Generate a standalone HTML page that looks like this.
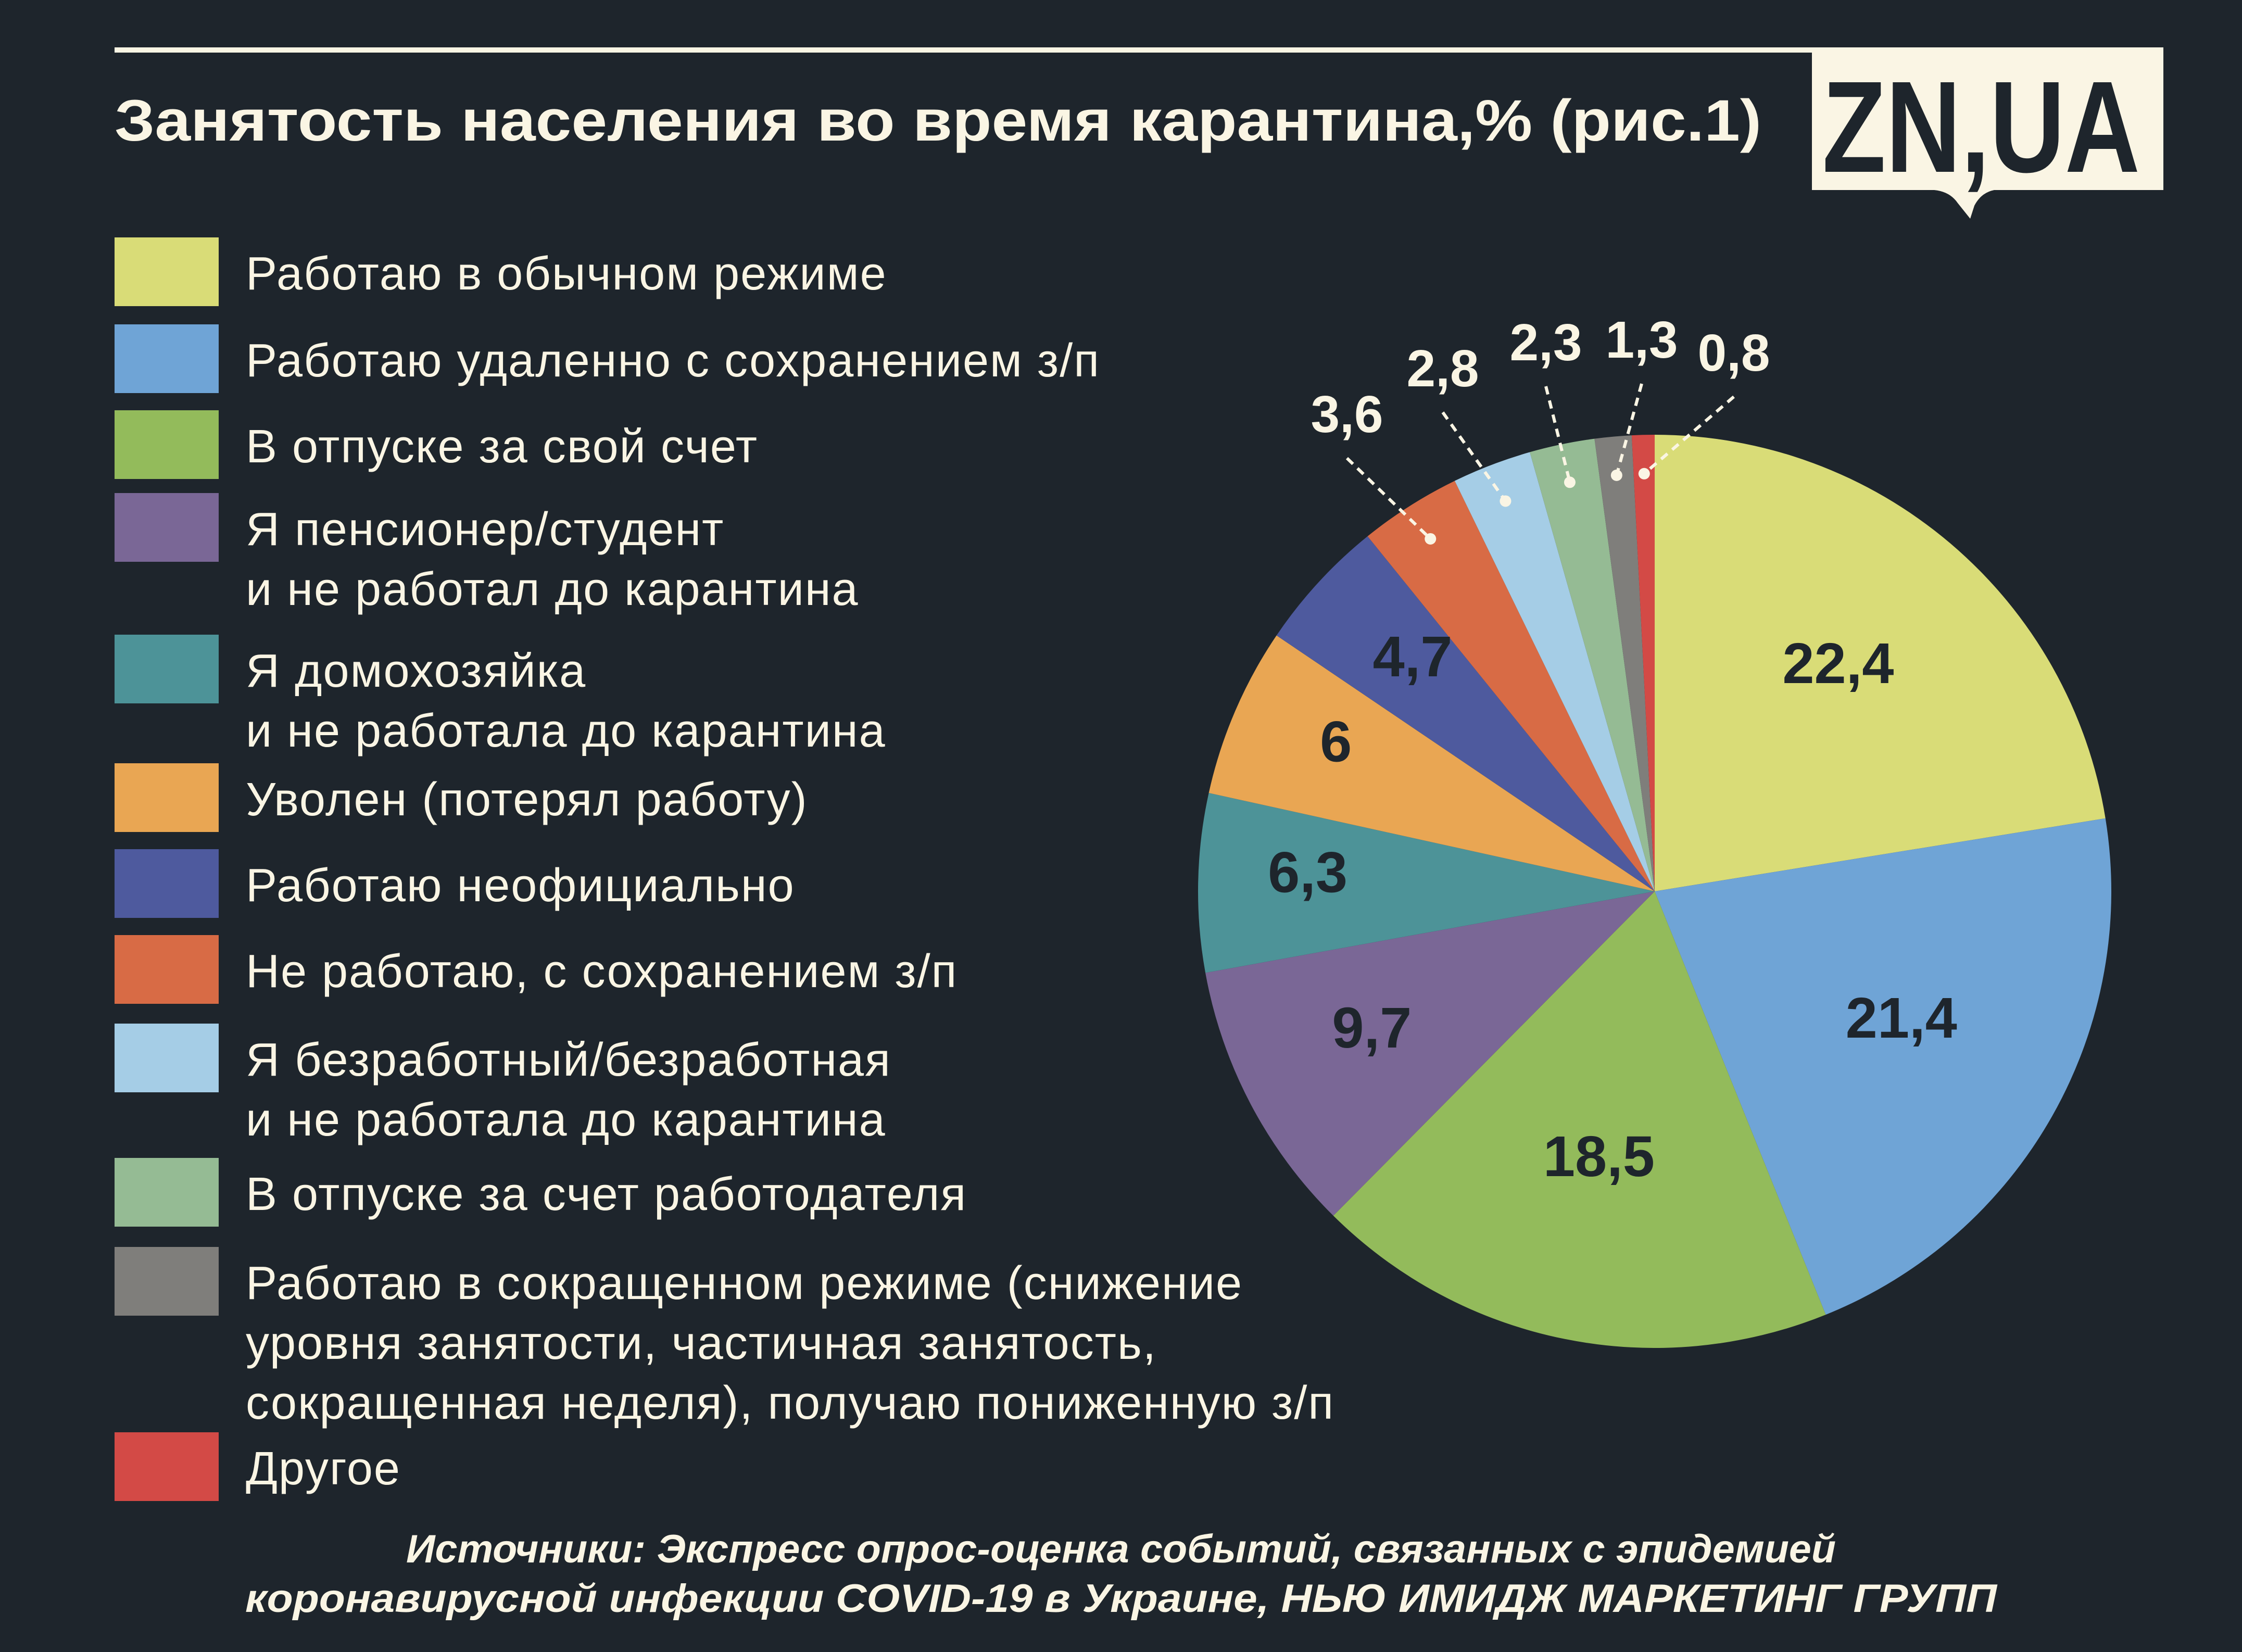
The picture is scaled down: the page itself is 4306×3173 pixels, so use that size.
<!DOCTYPE html>
<html><head><meta charset="utf-8"><style>
html,body{margin:0;padding:0;background:#1e252c;}
svg{display:block;}
text{font-family:"Liberation Sans","DejaVu Sans",sans-serif;}
</style></head><body>
<svg id="chart" width="4306" height="3173" viewBox="0 0 4306 3173" xmlns="http://www.w3.org/2000/svg">
<rect width="4306" height="3173" fill="#1e252c"/>
<rect x="220" y="91" width="3250" height="10" fill="#faf5e4"/>
<text x="220" y="270" font-size="112" font-weight="bold" fill="#faf5e4" textLength="3163" lengthAdjust="spacingAndGlyphs">Занятость населения во время карантина,% (рис.1)</text>
<g>
<path d="M3460 91 H4155 V365 H3830 Q3805 370 3792 395 L3784 420 L3760 390 Q3745 368 3715 365 H3460 Z" fill="#faf5e4"/>
<rect x="3452" y="101" width="28" height="264" fill="#1e252c"/>
<text x="3500" y="330" font-size="250" font-weight="bold" fill="#1e252c" textLength="610" lengthAdjust="spacingAndGlyphs">ZN,UA</text>
</g>
<g id="legend"></g>
<g id="pie"></g>
<g id="labels"></g>
<text x="2153" y="3001" font-size="76" font-weight="bold" font-style="italic" fill="#faf5e4" text-anchor="middle" textLength="2746" lengthAdjust="spacingAndGlyphs">Источники: Экспресс опрос-оценка событий, связанных с эпидемией</text>
<text x="2153" y="3096" font-size="76" font-weight="bold" font-style="italic" fill="#faf5e4" text-anchor="middle" textLength="3364" lengthAdjust="spacingAndGlyphs">коронавирусной инфекции COVID-19 в Украине, НЬЮ ИМИДЖ МАРКЕТИНГ ГРУПП</text>
</svg>
<script>
const categories = ["Работаю в обычном режиме","Работаю удаленно с сохранением з/п","В отпуске за свой счет","Я пенсионер/студент|и не работал до карантина","Я домохозяйка|и не работала до карантина","Уволен (потерял работу)","Работаю неофициально","Не работаю, с сохранением з/п","Я безработный/безработная|и не работала до карантина","В отпуске за счет работодателя","Работаю в сокращенном режиме (снижение|уровня занятости, частичная занятость,|сокращенная неделя), получаю пониженную з/п","Другое"];
const values = [22.4,21.4,18.5,9.7,6.3,6,4.7,3.6,2.8,2.3,1.3,0.8];
const valueLabels = ["22,4","21,4","18,5","9,7","6,3","6","4,7","3,6","2,8","2,3","1,3","0,8"];
const colors = ["#d9dc77","#6fa4d6","#93bb5b","#7a6796","#4d9398","#e9a653","#4e5a9e","#d86b45","#a5cde6","#95bb94","#7f7e7b","#d34a46"];

const NS="http://www.w3.org/2000/svg";
function mk(tag,attrs,parent){const e=document.createElementNS(NS,tag);for(const k in attrs)e.setAttribute(k,attrs[k]);parent.appendChild(e);return e;}

// legend
const legend=document.getElementById('legend');
const swTops=[456,623,788,947,1219,1466,1631,1796,1966,2224,2395,2751];
categories.forEach((c,i)=>{
  const sw=mk('rect',{x:220,y:swTops[i],width:200,height:132,fill:colors[i]},legend);
  
  
  const lines=c.split('|');
  const t=mk('text',{x:472,y:swTops[i]+100,'font-size':90,'letter-spacing':2,fill:'#faf5e4'},legend);
  
  
  lines.forEach((l,j)=>{const ts=mk('tspan',{x:472,dy:j?115:0},t);ts.textContent=l;});
});

// pie
const cx=3178,cy=1712,R=877;
const total=values.reduce((a,b)=>a+b,0);
function angOf(v){return v/total*2*Math.PI;}
function pt(a,r){return [cx+r*Math.sin(a),cy-r*Math.cos(a)];}
const pie=document.getElementById('pie'),labs=document.getElementById('labels');
let acc=0;
const innerRadius=[0.62,0.62,0.62,0.7,0.76,0.76,0.72];
const outerLabelPos=[[2587,830],[2771,742],[2969,692],[3153,687],[3330,712]];
values.forEach((v,i)=>{
  const a0=angOf(acc),a1=angOf(acc+v);acc+=v;
  const p0=pt(a0,R),p1=pt(a1,R);
  const large=(a1-a0)>Math.PI?1:0;
  const s=mk('path',{d:`M${cx},${cy} L${p0[0]},${p0[1]} A${R},${R} 0 ${large} 1 ${p1[0]},${p1[1]} Z`,fill:colors[i]},pie);
  
  
  const am=(a0+a1)/2;
  if(i<7){
    const p=pt(am,R*innerRadius[i]);
    const t=mk('text',{x:p[0],y:p[1]+14,'font-size':110,'font-weight':'bold',fill:'#1e252c','text-anchor':'middle'},labs);
    t.textContent=valueLabels[i];
    
    
  } else {
    const k=i-7;
    const d=pt(am,R*0.915);
    const lp=outerLabelPos[k];
    const ln=mk('line',{x1:lp[0],y1:lp[1]+50,x2:d[0],y2:d[1],stroke:'#faf5e4','stroke-width':6,'stroke-dasharray':'16 12'},labs);
    
    
    const dot=mk('circle',{cx:d[0],cy:d[1],r:11,fill:'#faf5e4'},labs);
    
    
    const t=mk('text',{x:lp[0],y:lp[1],'font-size':100,'font-weight':'bold',fill:'#faf5e4','text-anchor':'middle'},labs);
    t.textContent=valueLabels[i];
    
    
  }
});
</script>
</body></html>
